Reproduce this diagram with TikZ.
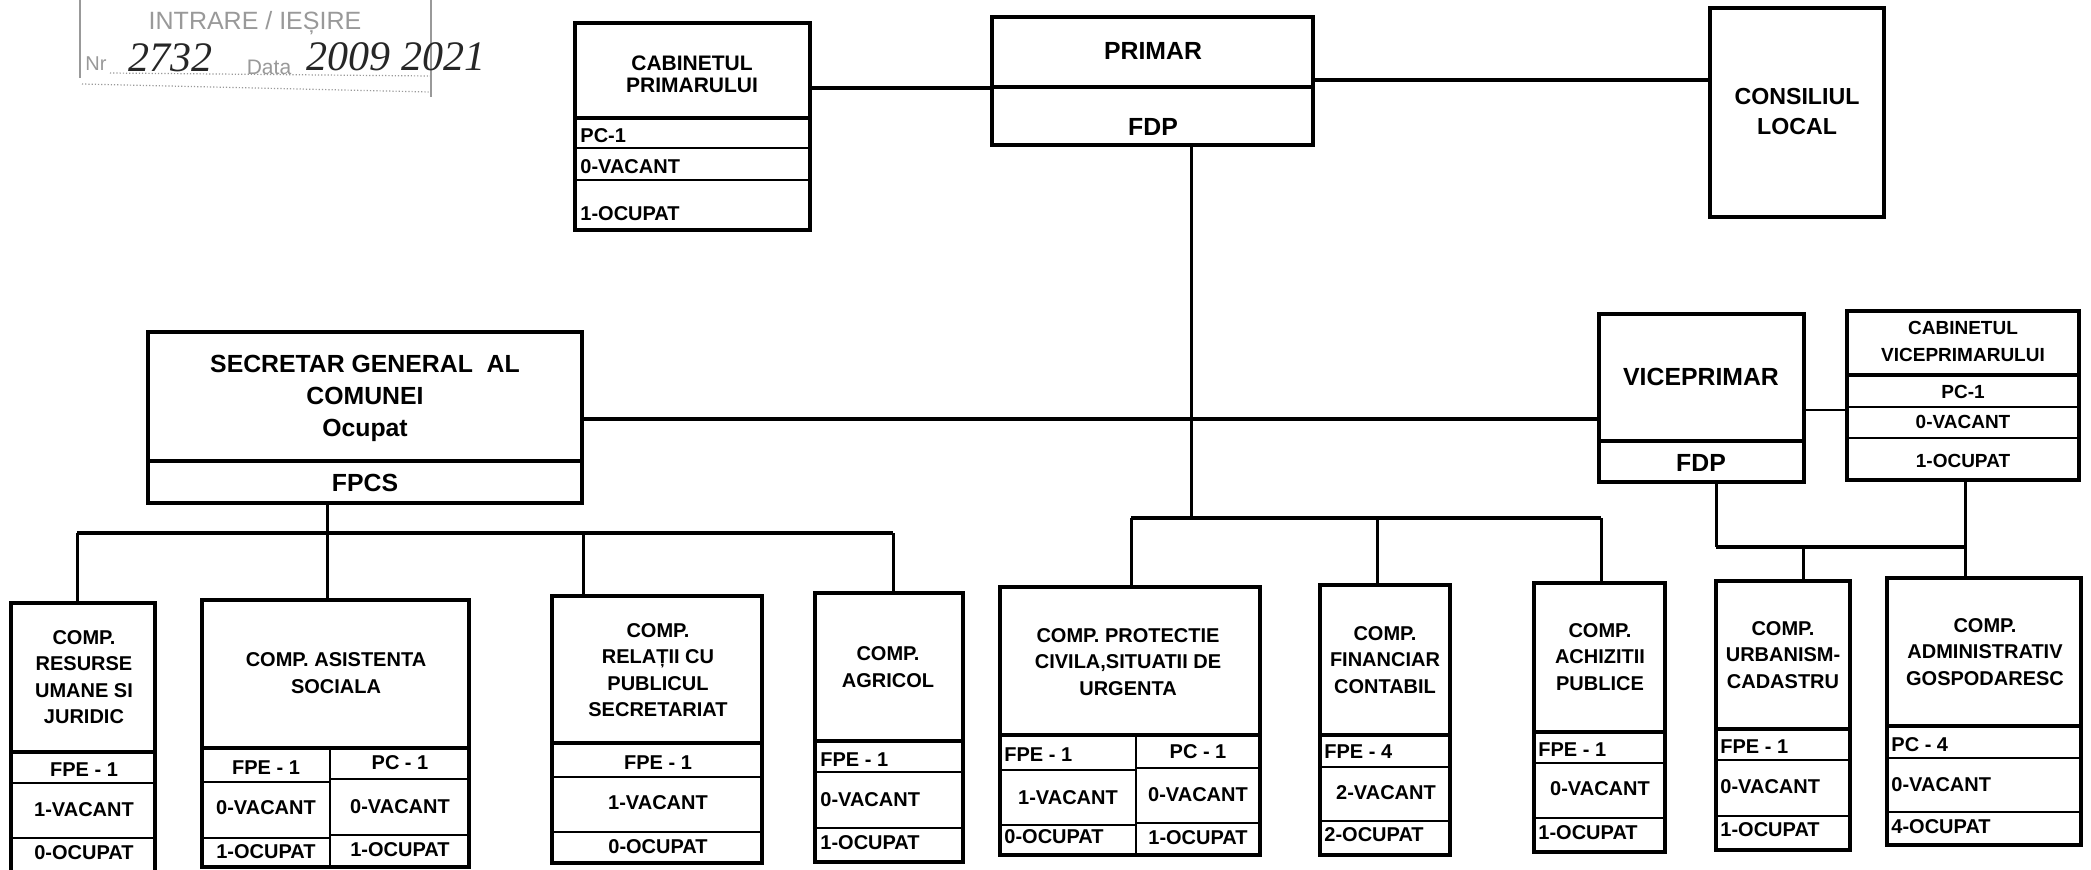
\documentclass[tikz,border=0pt]{standalone}
\usepackage{fontspec}
\setmainfont{Liberation Sans}
\newfontfamily\handfont{Liberation Serif}
\usetikzlibrary{fit}
\definecolor{stampgray}{gray}{0.6}
\definecolor{inkdark}{gray}{0.15}
\tikzset{
  box/.style={draw, line width=2pt, inner sep=0pt},
  hd/.style={line width=2pt},
  rd/.style={line width=1.3pt},
  conn/.style={line width=2.2pt},
  bus/.style={line width=1.9pt},
  drop/.style={line width=1.5pt},
  thin conn/.style={line width=1.1pt},
  t/.style={inner sep=0pt, align=center, font=\bfseries\fontsize{10}{13.3}\selectfont},
  tl/.style={t, anchor=west},
  big/.style={t, font=\bfseries\fontsize{12.4}{16}\selectfont},
  mid/.style={t, font=\bfseries\fontsize{10.5}{11}\selectfont},
  small/.style={t, font=\bfseries\fontsize{9.5}{13.5}\selectfont},
  stampline/.style={stampgray, line width=0.6pt},
  stamptext/.style={inner sep=0pt, text=stampgray, font=\fontsize{12.5}{14}\selectfont},
  hand/.style={inner sep=0pt, text=inkdark, font=\handfont\itshape\fontsize{21}{22}\selectfont},
}
\newcommand\hdiv[3][rd]{\draw[#1] (#2.west |- 0,#3) -- (#2.east |- 0,#3);}
\begin{document}
\begin{tikzpicture}[x=0.5pt, y=-0.5pt]
\fill[white] (0,0) rectangle (2091,869);
\useasboundingbox (0,0) rectangle (2091,869);

% ---------- registration stamp ----------
\draw[stampline] (80,0) -- (80,78);
\draw[stampline] (431,0) -- (431,97);
\draw[stampline, densely dotted] (82,84) -- (430,92);
\draw[stampline, densely dotted] (110,73) -- (430,76);
\node[stamptext] (stIn) at (255,23) {INTRARE / IEȘIRE};
\node[stamptext, font=\fontsize{10}{11}\selectfont] (stNr) at (96,64) {Nr};
\node[hand] (hwNr) at (170,58) {2732};
\node[stamptext, font=\fontsize{10.5}{11}\selectfont] (stData) at (269,67) {Data};
\node[hand] (hwData) at (396,57) {2009 2021};

% ---------- top row ----------
\node[box, fit={(575,23) (810,230)}] (cabp) {};
\hdiv[hd]{cabp}{118}\hdiv{cabp}{148}\hdiv{cabp}{180}
\node[mid] (cabpT) at (692,74) {CABINETUL\\PRIMARULUI};
\node[tl] (cabp1) at (580,136) {PC-1};
\node[tl] (cabp2) at (580,167) {0-VACANT};
\node[tl] (cabp3) at (580,214) {1-OCUPAT};

\node[box, fit={(992,17) (1313,145)}] (primar) {};
\hdiv[hd]{primar}{87}
\node[big] (primarT) at (1153,51) {PRIMAR};
\node[big] (primarF) at (1153,127) {FDP};

\node[box, fit={(1710,8) (1884,217)}] (cons) {};
\node[t, font=\bfseries\fontsize{11.6}{15}\selectfont] (consT) at (1797,112) {CONSILIUL\\LOCAL};

% ---------- middle row ----------
\node[box, fit={(148,332) (582,503)}] (sec) {};
\hdiv[hd]{sec}{461}
\node[big] (secT) at (365,398) {SECRETAR GENERAL~~AL\\COMUNEI\\Ocupat};
\node[big] (secF) at (365,483) {FPCS};

\node[box, fit={(1599,314) (1804,482)}] (vice) {};
\hdiv[hd]{vice}{441}
\node[big] (viceT) at (1701,377) {VICEPRIMAR};
\node[big] (viceF) at (1701,463) {FDP};

\node[box, fit={(1847,311) (2079,480)}] (cabv) {};
\hdiv[hd]{cabv}{375}\hdiv{cabv}{407}\hdiv{cabv}{438}
\node[small] (cabvT) at (1963,341) {CABINETUL\\VICEPRIMARULUI};
\node[small] (cabv1) at (1963,392) {PC-1};
\node[small] (cabv2) at (1963,422) {0-VACANT};
\node[small] (cabv3) at (1963,461) {1-OCUPAT};

% ---------- bottom row ----------
% resurse umane
\node[box, fit={(11,603) (155,875)}] (res) {};
\hdiv[hd]{res}{752}\hdiv{res}{783}\hdiv{res}{838}
\node[t] (resT) at (84,677) {COMP.\\RESURSE\\UMANE SI\\JURIDIC};
\node[t] (res1) at (84,770) {FPE - 1};
\node[t] (res2) at (84,810) {1-VACANT};
\node[t] (res3) at (84,853) {0-OCUPAT};

% asistenta sociala
\node[box, fit={(202,600) (469,867)}] (asis) {};
\hdiv[hd]{asis}{748}
\draw[rd] (330,748) -- (asis.south -| 330,0);
\draw[rd] (asis.west |- 0,782) -- (330,782);
\draw[rd] (asis.west |- 0,838) -- (330,838);
\draw[rd] (330,779) -- (asis.east |- 0,779);
\draw[rd] (330,835) -- (asis.east |- 0,835);
\node[t] (asisT) at (336,673) {COMP. ASISTENTA\\SOCIALA};
\node[t] (asis1) at (266,768) {FPE - 1};
\node[t] (asis2) at (266,808) {0-VACANT};
\node[t] (asis3) at (266,852) {1-OCUPAT};
\node[t] (asis4) at (400,763) {PC - 1};
\node[t] (asis5) at (400,807) {0-VACANT};
\node[t] (asis6) at (400,850) {1-OCUPAT};

% relatii cu publicul
\node[box, fit={(552,596) (762,863)}] (rel) {};
\hdiv[hd]{rel}{743}\hdiv{rel}{777}\hdiv{rel}{832}
\node[t] (relT) at (658,670) {COMP.\\RELAȚII CU\\PUBLICUL\\SECRETARIAT};
\node[t] (rel1) at (658,763) {FPE - 1};
\node[t] (rel2) at (658,803) {1-VACANT};
\node[t] (rel3) at (658,847) {0-OCUPAT};

% agricol
\node[box, fit={(815,593) (963,862)}] (agr) {};
\hdiv[hd]{agr}{741}\hdiv{agr}{772}\hdiv{agr}{828}
\node[t] (agrT) at (888,667) {COMP.\\AGRICOL};
\node[tl] (agr1) at (820,760) {FPE - 1};
\node[tl] (agr2) at (820,800) {0-VACANT};
\node[tl] (agr3) at (820,843) {1-OCUPAT};

% protectie civila
\node[box, fit={(1000,587) (1260,855)}] (prot) {};
\hdiv[hd]{prot}{735}
\draw[rd] (1136,735) -- (prot.south -| 1136,0);
\draw[rd] (prot.west |- 0,770) -- (1136,770);
\draw[rd] (prot.west |- 0,825) -- (1136,825);
\draw[rd] (1136,768) -- (prot.east |- 0,768);
\draw[rd] (1136,823) -- (prot.east |- 0,823);
\node[t] (protT) at (1128,662) {COMP. PROTECTIE\\CIVILA,SITUATII DE\\URGENTA};
\node[tl] (prot1) at (1004,755) {FPE - 1};
\node[t] (prot2) at (1068,798) {1-VACANT};
\node[tl] (prot3) at (1004,837) {0-OCUPAT};
\node[t] (prot4) at (1198,752) {PC - 1};
\node[t] (prot5) at (1198,795) {0-VACANT};
\node[t] (prot6) at (1198,838) {1-OCUPAT};

% financiar contabil
\node[box, fit={(1320,585) (1450,855)}] (fin) {};
\hdiv[hd]{fin}{735}\hdiv{fin}{767}\hdiv{fin}{821}
\node[t] (finT) at (1385,660) {COMP.\\FINANCIAR\\CONTABIL};
\node[tl] (fin1) at (1324,752) {FPE - 4};
\node[t] (fin2) at (1386,793) {2-VACANT};
\node[tl] (fin3) at (1324,835) {2-OCUPAT};

% achizitii publice
\node[box, fit={(1534,583) (1665,852)}] (ach) {};
\hdiv[hd]{ach}{732}\hdiv{ach}{763}\hdiv{ach}{818}
\node[t] (achT) at (1600,657) {COMP.\\ACHIZITII\\PUBLICE};
\node[tl] (ach1) at (1538,750) {FPE - 1};
\node[t] (ach2) at (1600,789) {0-VACANT};
\node[tl] (ach3) at (1538,833) {1-OCUPAT};

% urbanism
\node[box, fit={(1716,581) (1850,850)}] (urb) {};
\hdiv[hd]{urb}{729}\hdiv{urb}{760}\hdiv{urb}{816}
\node[t] (urbT) at (1783,655) {COMP.\\URBANISM-\\CADASTRU};
\node[tl] (urb1) at (1720,747) {FPE - 1};
\node[tl] (urb2) at (1720,787) {0-VACANT};
\node[tl] (urb3) at (1720,830) {1-OCUPAT};

% administrativ
\node[box, fit={(1887,578) (2081,845)}] (adm) {};
\hdiv[hd]{adm}{726}\hdiv{adm}{758}\hdiv{adm}{812}
\node[t] (admT) at (1985,652) {COMP.\\ADMINISTRATIV\\GOSPODARESC};
\node[tl] (adm1) at (1891,745) {PC - 4};
\node[tl] (adm2) at (1891,785) {0-VACANT};
\node[tl] (adm3) at (1891,827) {4-OCUPAT};

% ---------- connectors ----------
\coordinate (busL1) at (77,533);
\coordinate (busL2) at (893,533);
\coordinate (busM0) at (1191,518);
\coordinate (busM1) at (1131,518);
\coordinate (busM2) at (1601,518);
\coordinate (busR1) at (1716,547);
\coordinate (busR2) at (1965,547);

\draw[conn] (cabp.east |- 0,88) -- (primar.west |- 0,88);
\draw[conn] (primar.east |- 0,80) -- (cons.west |- 0,80);
\draw[drop] (primar.south -| busM0) -- (busM0);
\draw[conn] (sec.east |- 0,419) -- (vice.west |- 0,419);
\draw[thin conn] (vice.east |- 0,410) -- (cabv.west |- 0,410);

% secretar subtree
\draw[drop] (sec.south -| 327,0) -- (asis.north -| 327,0);
\draw[bus] (busL1) -- (busL2);
\draw[drop] (busL1) -- (res.north -| busL1);
\draw[drop] (busL2) -- (agr.north -| busL2);
\draw[drop] (rel.north -| 583,0) -- (583,533);

% primar subtree
\draw[bus] (busM1) -- (busM2);
\draw[drop] (busM1) -- (prot.north -| busM1);
\draw[drop] (fin.north -| 1377,0) -- (1377,518);
\draw[drop] (busM2) -- (ach.north -| busM2);

% viceprimar subtree
\draw[drop] (vice.south -| busR1) -- (busR1);
\draw[bus] (busR1) -- (busR2);
\draw[drop] (cabv.south -| busR2) -- (adm.north -| busR2);
\draw[drop] (urb.north -| 1803,0) -- (1803,547);
\end{tikzpicture}
\end{document}
